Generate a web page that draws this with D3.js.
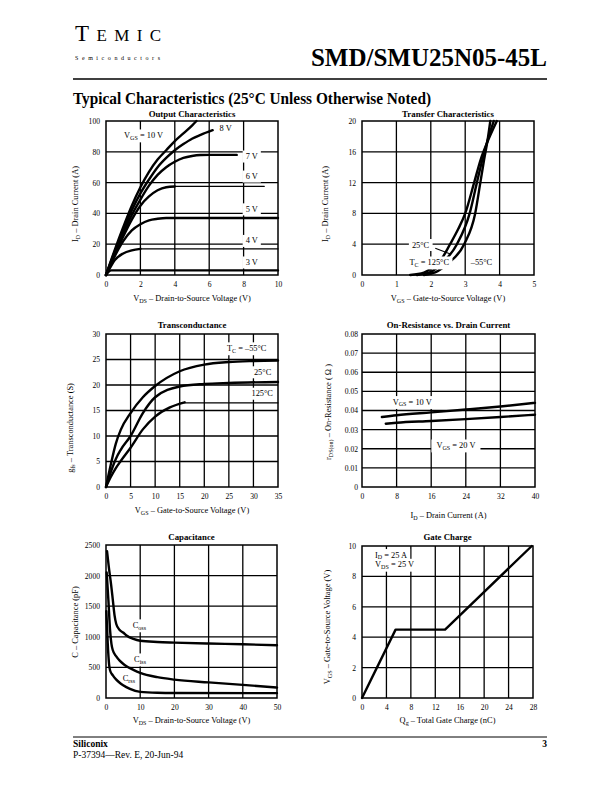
<!DOCTYPE html>
<html><head><meta charset="utf-8">
<script src="https://cdn.jsdelivr.net/npm/d3@7"></script>
<style>
body{margin:0;background:#fff}
svg{display:block}
text{font-family:"Liberation Serif","Times New Roman",serif;fill:#000}
</style>
</head><body>
<svg id="page" width="612" height="792"></svg>
<script>
// ---------------- DATA ----------------
// Output Characteristics: [VDS (V), ID (A)]
const outXTicks = [0, 2, 4, 6, 8, 10];
const outYTicks = [0, 20, 40, 60, 80, 100];
const outVgs10 = [[0,0],[0.5,16],[1,31],[1.5,45],[2,57],[2.5,67],[3,75],[3.5,81],[4,87],[4.5,92],[5,97],[5.26,100]];
const outVgs8  = [[0,0],[0.5,15],[1,29],[1.5,42],[2,53],[2.5,62],[3,70],[3.5,76],[4,81],[4.5,85],[5,88.5],[5.5,91],[6.2,94]];
const outVgs7  = [[0,0],[0.5,14],[1,27],[1.5,39],[2,49],[2.5,58],[3,65],[3.5,70],[4,73.5],[4.5,76],[5,77.3],[5.5,77.9],[6,78],[7.6,78]];
const outVgs6  = [[0,0],[0.5,13],[1,25],[1.5,36],[2,45],[2.5,51],[3,55],[3.5,57],[4,57.5]];
const outVgs6Ext = [[4,57.5],[9.2,57.5]];
const outVgs5  = [[0,0],[0.5,12],[1,22],[1.5,29],[2,33],[2.5,35.5],[3,36.5],[3.5,37],[10,37]];
const outVgs4  = [[0,0],[0.25,5],[0.5,9.5],[1,14],[1.5,16],[2,17]];
const outVgs4Ext = [[2,17],[10,17]];
const outVgs3  = [[0,0],[0.3,3],[10,3]];

// Transfer Characteristics: [VGS (V), ID (A)]
const trXTicks = [0, 1, 2, 3, 4, 5];
const trYTicks = [0, 4, 8, 12, 16, 20];
const trTc125 = [[1.4,0],[1.8,0.3],[2.0,0.8],[2.3,2],[2.56,4],[2.8,6],[3.0,8],[3.26,12],[3.45,15],[3.62,17],[3.92,20]];
const trTc25  = [[1.6,0],[2.0,0.4],[2.3,1.4],[2.76,4],[3.13,8],[3.34,12],[3.5,15],[3.65,17.5],[3.83,20]];
const trTcM55 = [[1.8,0],[2.2,0.5],[2.5,1.5],[2.97,4],[3.29,8],[3.44,12],[3.55,15],[3.65,17.5],[3.73,20]];

// Transconductance: [VGS (V), gfs (S)]
const gfsXTicks = [0, 5, 10, 15, 20, 25, 30, 35];
const gfsYTicks = [0, 5, 10, 15, 20, 25, 30];
const gfsTcM55 = [[0,0],[1,4.5],[2,8.5],[3,11.2],[5,14.5],[7.5,17.6],[10,19.8],[15,22.7],[20,24],[25,24.5],[30,24.7],[35,24.8]];
const gfsTc25  = [[0,0],[1,3],[2,5.5],[3,7.3],[5,10],[7.5,14.5],[10,17.6],[15,19.7],[20,20.2],[25,20.4],[35,20.6]];
const gfsTc125 = [[0,0],[1,2],[2,3.7],[3,5.1],[5,7.7],[7.5,11.3],[10,13.8],[13,15.6],[16,16.6]];
const gfsTc125Ext = [[16,16.5],[35,16.5]];

// On-Resistance vs. Drain Current: [ID (A), rDS(on) (Ohm)]
const rdsXTicks = [0, 8, 16, 24, 32, 40];
const rdsYTicks = [0, 0.01, 0.02, 0.03, 0.04, 0.05, 0.06, 0.07, 0.08];
const rdsYLabels = ["0", "0.01", "0.02", "0.03", "0.04", "0.05", "0.06", "0.07", "0.08"];
const rdsVgs10 = [[4.6,0.0366],[8,0.0375],[16,0.039],[24,0.0405],[32,0.0421],[40,0.044]];
const rdsVgs20 = [[5.5,0.0331],[8,0.0336],[16,0.0345],[24,0.0355],[32,0.0366],[40,0.0378]];

// Capacitance: [VDS (V), C (pF)]
const capXTicks = [0, 10, 20, 30, 40, 50];
const capYTicks = [0, 500, 1000, 1500, 2000, 2500];
const capTop    = [[0.3,2400],[0.8,2150],[1.5,1850],[2,1600],[2.5,1350],[3,1210],[4,1110],[5,1070],[6,1020],[8,965],[10,935],[15,915],[20,905],[30,890],[40,878],[50,862]];
const capMiddle = [[0.2,2050],[0.7,1600],[1.2,1100],[1.6,880],[2,780],[3,680],[4,610],[5,560],[6,520],[8,460],[10,410],[15,340],[20,300],[30,255],[40,215],[50,170]];
const capBottom = [[0.1,1420],[0.5,900],[0.9,550],[1.2,450],[2,370],[3,300],[4,250],[5,210],[7,150],[10,100],[15,85],[20,82],[50,80]];

// Gate Charge: [Qg (nC), VGS (V)]
const qgXTicks = [0, 4, 8, 12, 16, 20, 24, 28];
const qgYTicks = [0, 2, 4, 6, 8, 10];
const qgCurve = [[0,0],[5.5,4.5],[13.6,4.5],[27.8,10]];

// ---------------- DRAWING ----------------
const svg = d3.select("#page");

function rich(t, str) {
  const parts = str.split(/(_\{[^}]*\})/);
  let shifted = false;
  parts.forEach(p => {
    if (!p) return;
    if (p.startsWith("_{")) {
      t.append("tspan").attr("dy", 1.9).attr("font-size", "0.72em").text(p.slice(2, -1));
      shifted = true;
    } else {
      const s = t.append("tspan").text(p);
      if (shifted) { s.attr("dy", -1.9); shifted = false; }
    }
  });
  return t;
}

function chart(cfg) {
  const g = svg.append("g");
  const x = d3.scaleLinear().domain([cfg.xTicks[0], cfg.xTicks[cfg.xTicks.length - 1]]).range([cfg.box.l, cfg.box.r]);
  const y = d3.scaleLinear().domain([cfg.yTicks[0], cfg.yTicks[cfg.yTicks.length - 1]]).range([cfg.box.b, cfg.box.t]);

  // grid
  const grid = g.append("g").attr("stroke", "#000").attr("stroke-width", 1.3);
  cfg.xTicks.slice(1, -1).forEach(v => grid.append("line").attr("x1", x(v)).attr("x2", x(v)).attr("y1", cfg.box.t).attr("y2", cfg.box.b));
  cfg.yTicks.slice(1, -1).forEach(v => grid.append("line").attr("y1", y(v)).attr("y2", y(v)).attr("x1", cfg.box.l).attr("x2", cfg.box.r));

  let bgLayer, curveLayer;
  if (cfg.bgOver) { curveLayer = g.append("g"); bgLayer = g.append("g"); }
  else { bgLayer = g.append("g"); curveLayer = g.append("g"); }
  const labLayer = g.append("g");

  (cfg.labels || []).forEach(L => {
    const t = labLayer.append("text").attr("x", x(L.x)).attr("y", y(L.y)).attr("font-size", L.size || 8.4)
      .attr("text-anchor", L.anchor || "start");
    rich(t, L.text);
    if (L.bg !== false) {
      const bb = t.node().getBBox();
      const pad = L.pad || 3;
      bgLayer.append("rect").attr("x", bb.x - pad).attr("y", bb.y - 1.5).attr("width", bb.width + 2 * pad).attr("height", bb.height + 3).attr("fill", "#fff");
    }
  });
  (cfg.leaders || []).forEach(d => {
    labLayer.append("line").attr("x1", x(d[0][0])).attr("y1", y(d[0][1])).attr("x2", x(d[1][0])).attr("y2", y(d[1][1]))
      .attr("stroke", "#000").attr("stroke-width", 1.1);
  });

  // curves
  cfg.series.forEach(s => {
    const line = d3.line().x(d => x(d[0])).y(d => y(d[1])).curve(s.linear ? d3.curveLinear : d3.curveMonotoneX);
    curveLayer.append("path").attr("d", line(s.data)).attr("fill", "none").attr("stroke", "#000")
      .attr("stroke-width", s.thin ? 1.2 : 2.4).attr("stroke-linejoin", "round").attr("stroke-linecap", "round");
  });

  // frame
  g.append("rect").attr("x", cfg.box.l).attr("y", cfg.box.t).attr("width", cfg.box.r - cfg.box.l).attr("height", cfg.box.b - cfg.box.t)
    .attr("fill", "none").attr("stroke", "#000").attr("stroke-width", 1.5);

  // axes tick labels via d3 axes (lines hidden)
  const xa = d3.axisBottom(x).tickValues(cfg.xTicks).tickSize(0).tickPadding(7).tickFormat(d3.format("d"));
  const xg = g.append("g").attr("transform", `translate(0,${cfg.box.b})`).call(xa);
  const ya = d3.axisLeft(y).tickValues(cfg.yTicks).tickSize(0).tickPadding(cfg.yPad || 6)
    .tickFormat((d, i) => cfg.yLabels ? cfg.yLabels[i] : d3.format("d")(d));
  const yg = g.append("g").attr("transform", `translate(${cfg.box.l},0)`).call(ya);
  [xg, yg].forEach(a => {
    a.select(".domain").remove();
    a.selectAll("text").attr("font-family", '"Liberation Serif","Times New Roman",serif').attr("font-size", 7.6).attr("fill", "#000");
  });

  // title
  g.append("text").attr("x", (cfg.box.l + cfg.box.r) / 2).attr("y", cfg.titleY).attr("text-anchor", "middle")
    .attr("font-size", 8.8).attr("font-weight", "bold").text(cfg.title);
  // x axis label
  rich(g.append("text").attr("x", (cfg.box.l + cfg.box.r) / 2).attr("y", cfg.xLabelY).attr("text-anchor", "middle").attr("font-size", 8.4), cfg.xLabel);
  // y axis label
  rich(g.append("text").attr("transform", `translate(${cfg.yLabelX},${cfg.yLabelCY}) rotate(-90)`).attr("text-anchor", "middle").attr("font-size", 8.4), cfg.yLabel);
}

chart({
  box: {l:106, r:278, t:121, b:275}, xTicks: outXTicks, yTicks: outYTicks,
  title: "Output Characteristics", titleY: 117,
  xLabel: "V_{DS}  –  Drain-to-Source Voltage (V)", xLabelY: 301,
  yLabel: "I_{D}  –  Drain Current (A)", yLabelX: 78, yLabelCY: 204,
  series: [
    {data: outVgs10}, {data: outVgs8}, {data: outVgs7}, {data: outVgs6}, {data: outVgs6Ext, thin: true},
    {data: outVgs5}, {data: outVgs4}, {data: outVgs4Ext, thin: true}, {data: outVgs3}
  ],
  labels: [
    {text: "V_{GS} = 10 V", x: 1.05, y: 89},
    {text: "8 V", x: 6.6, y: 93.5},
    {text: "7 V", x: 8.12, y: 75.3},
    {text: "6 V", x: 8.12, y: 62.3},
    {text: "5 V", x: 8.12, y: 41},
    {text: "4 V", x: 8.12, y: 20.5},
    {text: "3 V", x: 8.12, y: 6.5}
  ]
});

chart({
  box: {l:362, r:534, t:121, b:275}, xTicks: trXTicks, yTicks: trYTicks, bgOver: true,
  title: "Transfer Characteristics", titleY: 117,
  xLabel: "V_{GS}  –  Gate-to-Source Voltage (V)", xLabelY: 301,
  yLabel: "I_{D}  –  Drain Current (A)", yLabelX: 328, yLabelCY: 204,
  series: [{data: trTc125}, {data: trTc25}, {data: trTcM55}],
  labels: [
    {text: "25°C", x: 1.45, y: 3.57},
    {text: "T_{C} = 125°C", x: 1.38, y: 1.3},
    {text: "–55°C", x: 3.16, y: 1.3}
  ],
  leaders: [[[2.13, 3.47], [2.57, 2.73]]]
});

chart({
  box: {l:106, r:278, t:334, b:487}, xTicks: gfsXTicks, yTicks: gfsYTicks,
  title: "Transconductance", titleY: 328,
  xLabel: "V_{GS} – Gate-to-Source Voltage (V)", xLabelY: 513,
  yLabel: "g_{fs} – Transconductance (S)", yLabelX: 73, yLabelCY: 428,
  series: [{data: gfsTcM55}, {data: gfsTc25}, {data: gfsTc125}, {data: gfsTc125Ext, thin: true}],
  labels: [
    {text: "T_{C} = –55°C", x: 24.6, y: 26.7},
    {text: "25°C", x: 30.1, y: 22.0},
    {text: "125°C", x: 29.6, y: 17.8}
  ]
});

chart({
  box: {l:362, r:535, t:334, b:487}, xTicks: rdsXTicks, yTicks: rdsYTicks, yLabels: rdsYLabels, yPad: 4,
  title: "On-Resistance vs. Drain Current", titleY: 328,
  xLabel: "I_{D}  –  Drain Current (A)", xLabelY: 518,
  yLabel: "r_{DS(on)}  –  On-Resistance ( Ω )", yLabelX: 331, yLabelCY: 412,
  series: [{data: rdsVgs10}, {data: rdsVgs20}],
  labels: [
    {text: "V_{GS} = 10 V", x: 7.1, y: 0.0431},
    {text: "V_{GS} = 20 V", x: 17.2, y: 0.0204, pad: 5}
  ]
});

chart({
  box: {l:106, r:277, t:545, b:698}, xTicks: capXTicks, yTicks: capYTicks,
  title: "Capacitance", titleY: 540,
  xLabel: "V_{DS}  –  Drain-to-Source Voltage (V)", xLabelY: 723,
  yLabel: "C  –  Capacitance (pF)", yLabelX: 78, yLabelCY: 622,
  series: [{data: capTop}, {data: capMiddle}, {data: capBottom}],
  labels: [
    {text: "C_{oss}", x: 7.8, y: 1146},
    {text: "C_{iss}", x: 8.2, y: 589},
    {text: "C_{rss}", x: 4.9, y: 278}
  ]
});

chart({
  box: {l:362, r:533, t:546, b:698}, xTicks: qgXTicks, yTicks: qgYTicks,
  title: "Gate Charge", titleY: 540,
  xLabel: "Q_{g}  –  Total Gate Charge (nC)", xLabelY: 723,
  yLabel: "V_{GS}  –  Gate-to-Source Voltage (V)", yLabelX: 330, yLabelCY: 627,
  series: [{data: qgCurve, linear: true}],
  labels: [
    {text: "I_{D} = 25 A", x: 2.13, y: 9.24},
    {text: "V_{DS} = 25 V", x: 2.13, y: 8.6}
  ]
});

// ---------------- PAGE TEXT ----------------
const head = svg.append("g");
const tm = head.append("text").attr("x", 75).attr("y", 41).attr("textLength", 86).attr("lengthAdjust", "spacing");
tm.append("tspan").attr("font-size", 23).text("T");
tm.append("tspan").attr("font-size", 17).text("EMIC");
head.append("text").attr("x", 75).attr("y", 60).attr("font-size", 6).attr("textLength", 85).attr("lengthAdjust", "spacing").text("Semiconductors");
head.append("text").attr("x", 547).attr("y", 66).attr("text-anchor", "end").attr("font-size", 25).attr("font-weight", "bold").text("SMD/SMU25N05-45L");
head.append("line").attr("x1", 73).attr("x2", 547).attr("y1", 79).attr("y2", 79).attr("stroke", "#000").attr("stroke-width", 1.5);
head.append("text").attr("x", 73).attr("y", 104).attr("font-size", 16).attr("font-weight", "bold")
  .attr("textLength", 358).attr("lengthAdjust", "spacingAndGlyphs").text("Typical Characteristics (25°C Unless Otherwise Noted)");

head.append("line").attr("x1", 73).attr("x2", 547).attr("y1", 737).attr("y2", 737).attr("stroke", "#000").attr("stroke-width", 1);
head.append("text").attr("x", 73).attr("y", 747).attr("font-size", 9.5).attr("font-weight", "bold").text("Siliconix");
head.append("text").attr("x", 547).attr("y", 747).attr("text-anchor", "end").attr("font-size", 9.5).attr("font-weight", "bold").text("3");
head.append("text").attr("x", 73).attr("y", 758).attr("font-size", 9.5).text("P-37394—Rev. E, 20-Jun-94");
</script>
</body></html>
